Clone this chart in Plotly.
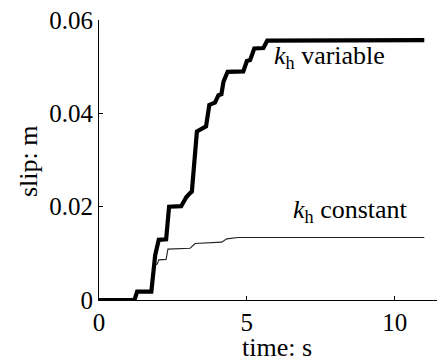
import plotly.graph_objects as go

# k_h variable (thick line)
t_var = [0, 1.20, 1.29, 1.77, 1.90, 1.95, 2.02, 2.27, 2.37, 2.78, 2.95, 3.08, 3.14, 3.31, 3.54, 3.62, 3.73,
         3.92, 4.04, 4.14, 4.21, 4.35, 4.88, 5.00, 5.11, 5.25, 5.56, 5.69, 11.0]
s_var = [0, 0, 0.0018, 0.0018, 0.0096, 0.0107, 0.0129, 0.0130, 0.0200, 0.0201, 0.0220, 0.0229, 0.0232, 0.0361, 0.0368, 0.0372, 0.0418,
         0.0423, 0.0439, 0.0441, 0.0468, 0.0489, 0.0490, 0.0512, 0.0514, 0.0539, 0.0540, 0.0556, 0.0557]

# k_h constant (thin line)
t_con = [0, 1.20, 1.29, 1.77, 1.86, 1.97, 2.02, 2.27, 2.33, 3.08, 3.25, 4.15, 4.32, 4.70, 11.0]
s_con = [0, 0, 0.0018, 0.0018, 0.0075, 0.0077, 0.0086, 0.0087, 0.0109, 0.0111, 0.0121, 0.0124, 0.0131, 0.0134, 0.0134]

x_ticks = [0, 5, 10]
y_ticks = [0, 0.02, 0.04, 0.06]
y_tick_text = ["0", "0.02", "0.04", "0.06"]

FONT = "Liberation Serif"
FS_TICK = 25
FS_TEXT = 26

fig = go.Figure()
fig.add_trace(go.Scatter(x=t_con, y=s_con, mode="lines",
                         line=dict(color="#222222", width=1.1), showlegend=False))
fig.add_trace(go.Scatter(x=t_var, y=s_var, mode="lines",
                         line=dict(color="black", width=4.2), showlegend=False))

fig.add_annotation(x=7.80, y=0.0521, text="<i>k</i><sub>h</sub> variable", showarrow=False,
                   font=dict(family=FONT, size=FS_TEXT, color="black"), xanchor="center", yanchor="middle")
fig.add_annotation(x=8.51, y=0.0191, text="<i>k</i><sub>h</sub> constant", showarrow=False,
                   font=dict(family=FONT, size=FS_TEXT, color="black"), xanchor="center", yanchor="middle")

# axis titles as paper annotations
fig.add_annotation(x=(277 - 99) / 346, y=(300 - 347) / 280, xref="paper", yref="paper",
                   text="time: s", showarrow=False, font=dict(family=FONT, size=FS_TEXT, color="black"),
                   xanchor="center", yanchor="middle")
fig.add_annotation(x=(28 - 99) / 346, y=(300 - 161) / 280, xref="paper", yref="paper",
                   text="slip: m", showarrow=False, textangle=-90,
                   font=dict(family=FONT, size=FS_TEXT, color="black"),
                   xanchor="center", yanchor="middle")

# page body has an 8px margin, so the figure is 8px smaller and margins are shifted
fig.update_layout(
    width=437, height=355,
    margin=dict(l=91, r=0, t=12, b=63, autoexpand=False),
    paper_bgcolor="white", plot_bgcolor="white",
    font=dict(family=FONT, size=FS_TICK, color="black"),
    xaxis=dict(range=[0, 11.7], tickvals=x_ticks, ticks="inside", ticklen=4, tickcolor="black",
               showline=True, linecolor="black", linewidth=1, showgrid=False, zeroline=False,
               automargin=False, ticklabeloverflow="allow", tickfont=dict(family=FONT, size=FS_TICK)),
    yaxis=dict(range=[0, 0.06], tickvals=y_ticks, ticktext=y_tick_text, ticks="inside", ticklen=4,
               tickcolor="black", showline=True, linecolor="black", linewidth=1, showgrid=False,
               zeroline=False, automargin=False, ticklabeloverflow="allow",
               tickfont=dict(family=FONT, size=FS_TICK)),
)

fig.write_html("out.html")
